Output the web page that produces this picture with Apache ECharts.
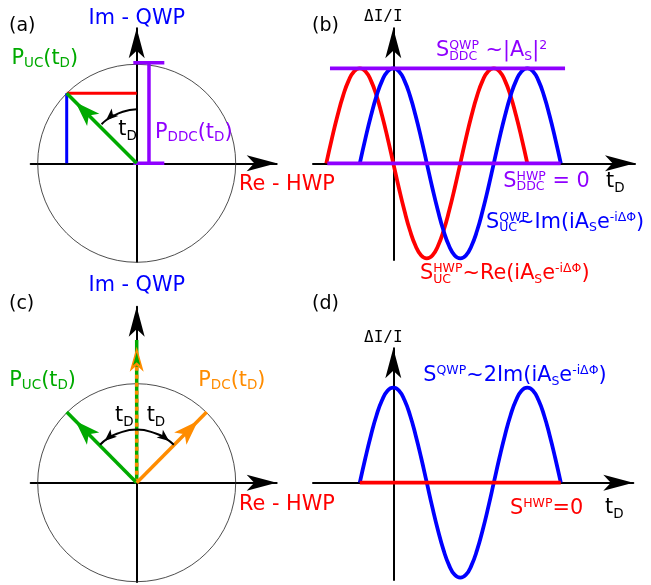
<!DOCTYPE html>
<html><head><meta charset="utf-8">
<script src="https://cdn.jsdelivr.net/npm/echarts@6/dist/echarts.min.js"></script>
<style>html,body{margin:0;padding:0;background:#fff}#c{width:651px;height:585px}</style>
</head><body><div id="c"></div>
<script>
// ================= data =================
// (a) phasor diagram, unit circle
const circleCenter = [0, 0];
const circleR = 1;
const pucA = [-0.707, 0.707];                 // P_UC(tD) tip
const reProj = [[-0.707, 0.707], [0, 0.707]]; // red projection
const imProj = [[-0.707, 0], [-0.707, 0.707]];// blue projection
const pddcBarX = 0.124;
const pddcBarY = [0, 1.016];
const pddcCapX = [-0.034, 0.279];
const arcAX = [0, -0.14, -0.27, -0.31, -0.355];
const arcAY = [0.545, 0.52, 0.46, 0.435, 0.395];
// (c)
const pucC = [-0.707, 0.714];
const pdcC = [0.707, 0.714];
const sumC = [0, 1.441];
const arcCX = [-0.37, -0.30, -0.2, 0, 0.2, 0.30, 0.375];
const arcCY = [0.383, 0.443, 0.495, 0.537, 0.495, 0.443, 0.383];
// (b) time traces, tD in steps of 1/24 period
const tD = [-6, -5.5, -5, -4.5, -4, -3.5, -3, -2.5, -2, -1.5, -1, -0.5, 0, 0.5, 1, 1.5, 2, 2.5, 3, 3.5, 4, 4.5,
            5, 5.5, 6, 6.5, 7, 7.5, 8, 8.5, 9, 9.5, 10, 10.5, 11, 11.5, 12, 12.5, 13, 13.5, 14, 14.5, 15];
const sUcQwp = ['-', '-', '-', '-', '-', '-',
  0, 0.26, 0.5, 0.71, 0.87, 0.97, 1, 0.97, 0.87, 0.71, 0.5, 0.26,
  0, -0.26, -0.5, -0.71, -0.87, -0.97, -1, -0.97, -0.87, -0.71, -0.5, -0.26,
  0, 0.26, 0.5, 0.71, 0.87, 0.97, 1, 0.97, 0.87, 0.71, 0.5, 0.26, 0];
const sUcHwp = [0, 0.26, 0.5, 0.71, 0.87, 0.97, 1, 0.97, 0.87, 0.71, 0.5, 0.26,
  0, -0.26, -0.5, -0.71, -0.87, -0.97, -1, -0.97, -0.87, -0.71, -0.5, -0.26,
  0, 0.26, 0.5, 0.71, 0.87, 0.97, 1, 0.97, 0.87, 0.71, 0.5, 0.26, 0,
  '-', '-', '-', '-', '-', '-'];
const ddcQwpX = [-5.67, 15.38];
const ddcQwp  = [1, 1];
const ddcHwpX = [-5.91, 14.99];
const ddcHwp  = [0, 0];
// (d)
const sQwpD = ['-', '-', '-', '-', '-', '-',
  0, 0.26, 0.5, 0.71, 0.87, 0.97, 1, 0.97, 0.87, 0.71, 0.5, 0.26,
  0, -0.26, -0.5, -0.71, -0.87, -0.97, -1, -0.97, -0.87, -0.71, -0.5, -0.26,
  0, 0.26, 0.5, 0.71, 0.87, 0.97, 1, 0.97, 0.87, 0.71, 0.5, 0.26, 0];
const sHwpX = [-3, 15];
const sHwpD = [0, 0];

// ================= layout (x1 / y0 are arrow tips) =================
const P = {
  a: {x0: 30.7, x1: 276.7, y0: 28.3, y1: 261.7, cx: 136.7, cy: 163.3, sx: 99, sy: 99},
  b: {x0: 313, x1: 635, y0: 28.3, y1: 260, cx: 393.3, cy: 163.3, sx: 67 / 6, sy: 95},
  c: {x0: 30.7, x1: 276.7, y0: 306.7, y1: 582, cx: 136.7, cy: 482.7, sx: 99, sy: 99},
  d: {x0: 313, x1: 633.3, y0: 348.3, y1: 580, cx: 393.3, cy: 482.7, sx: 67 / 6, sy: 95}
};
const keys = ['a', 'b', 'c', 'd'];
const BLUE = '#0000ff', RED = '#ff0000', GREEN = '#00aa00', ORANGE = '#ff8c00', PURPLE = '#8f00ff', BLACK = '#000000';
const FAM = "'DejaVu Sans', sans-serif";
const MONO = "'DejaVu Sans Mono', monospace";

const grids = [], xAxes = [], yAxes = [];
keys.forEach((k, i) => {
  const p = P[k];
  grids.push({left: p.x0, top: p.y0, width: p.x1 - p.x0, height: p.y1 - p.y0, containLabel: false, outerBoundsMode: 'none'});
  const ax = {
    type: 'value', gridIndex: i, axisTick: {show: false}, axisLabel: {show: false}, splitLine: {show: false},
    axisLine: {show: true, onZero: true, symbol: ['none', 'arrow'], symbolSize: [12, 30], lineStyle: {color: BLACK, width: 2}}
  };
  xAxes.push(Object.assign({}, ax, {min: (p.x0 - p.cx) / p.sx, max: (p.x1 - p.cx) / p.sx}));
  yAxes.push(Object.assign({}, ax, {min: -(p.y1 - p.cy) / p.sy, max: (p.cy - p.y0) / p.sy}));
});

const series = [];
function line(k, pts, color, width, extra) {
  const gi = keys.indexOf(k);
  series.push(Object.assign({
    type: 'line', xAxisIndex: gi, yAxisIndex: gi, data: pts, symbol: 'none', showSymbol: false,
    smooth: false, clip: false, silent: true, animation: false,
    lineStyle: {color: color, width: width, cap: 'butt'}, itemStyle: {color: color},
    emphasis: {disabled: true}
  }, extra || {}));
}
function arrowHead(k, from, to, w, h, style) {
  const p = P[k];
  const dx = (to[0] - from[0]) * p.sx, dy = (to[1] - from[1]) * p.sy;
  const th = Math.atan2(dy, dx);
  return {value: to, symbol: 'arrow', symbolSize: [w, h], symbolRotate: th * 180 / Math.PI - 90,
          symbolOffset: [-Math.cos(th) * h / 2, Math.sin(th) * h / 2], itemStyle: style};
}
function arrowLine(k, pts, color, width, w, h, opts) {
  opts = opts || {};
  const n = pts.length;
  const data = pts.map(q => ({value: q, symbol: 'none'}));
  data[n - 1] = arrowHead(k, pts[n - 2], pts[n - 1], w, h, opts.head || {color: color});
  if (opts.both) data[0] = arrowHead(k, pts[1], pts[0], w, h, opts.head || {color: color});
  line(k, data, color, width, {symbol: 'arrow', showSymbol: true, showAllSymbol: true, smooth: opts.smooth || false});
}
function circle(k) {
  const gi = keys.indexOf(k);
  series.push({type: 'scatter', xAxisIndex: gi, yAxisIndex: gi, data: [circleCenter], symbol: 'circle',
    symbolSize: 2 * circleR * P[k].sx, clip: false, silent: true, animation: false, z: 1,
    itemStyle: {color: 'rgba(0,0,0,0)', borderColor: '#222', borderWidth: 1}, emphasis: {disabled: true}});
}
const zip = (xs, ys) => xs.map((x, i) => [x, ys[i]]).filter(q => q[1] !== '-');

// ---- (a)
circle('a');
line('a', reProj, RED, 3);
line('a', imProj, BLUE, 3);
line('a', [[pddcBarX, pddcBarY[0]], [pddcBarX, pddcBarY[1]]], PURPLE, 3.5);
line('a', [[pddcCapX[0], pddcBarY[0]], [pddcCapX[1], pddcBarY[0]]], PURPLE, 3.5);
line('a', [[pddcCapX[0], pddcBarY[1]], [pddcCapX[1], pddcBarY[1]]], PURPLE, 3.5);
arrowLine('a', [[0, 0], pucA], GREEN, 3.5, 13, 25);
arrowLine('a', zip(arcAX, arcAY), BLACK, 2, 7.5, 12, {smooth: true});

// ---- (b)
line('b', zip(tD, sUcHwp), RED, 3.8, {smooth: true});
line('b', zip(tD, sUcQwp), BLUE, 3.8, {smooth: true});
line('b', zip(ddcQwpX, ddcQwp), PURPLE, 3.8);
line('b', zip(ddcHwpX, ddcHwp), PURPLE, 3.8);

// ---- (c)
circle('c');
arrowLine('c', [[0, 0], sumC], GREEN, 3.5, 8, 19, {head: {color: GREEN, borderColor: ORANGE, borderWidth: 2}});
line('c', [[0, 0], [0, sumC[1] - 14 / P.c.sy]], ORANGE, 3.5, {lineStyle: {color: ORANGE, width: 3.5, type: [4, 4], cap: 'butt'}});
arrowLine('c', [[0, 0], pucC], GREEN, 3.5, 13, 25);
arrowLine('c', [[0, 0], pdcC], ORANGE, 3.5, 13, 25);
arrowLine('c', zip(arcCX, arcCY), BLACK, 2, 7.5, 12, {smooth: true, both: true});

// ---- (d)
line('d', zip(tD, sQwpD), BLUE, 3.8, {smooth: true});
line('d', zip(sHwpX, sHwpD), RED, 3.8);

// ================= text =================
const mctx = document.createElement('canvas').getContext('2d');
function tw(s, size, fam) { mctx.font = size + 'px ' + fam; return mctx.measureText(s).width; }
const texts = [];
function put(t, x, y, size, color, fam) {
  texts.push({type: 'text', x: x, y: y, silent: true, z: 100,
    style: {text: t, font: size + 'px ' + (fam || FAM), fill: color, align: 'left', verticalAlign: 'middle'}});
}
function formula(x, yc, color, parts, opt) {
  opt = opt || {};
  const M = opt.main || 20.8, S = opt.small || 12.5, up = opt.up || 5, dn = opt.dn || 5.5;
  let cx = x;
  parts.forEach(p => {
    if (typeof p === 'string') { put(p, cx, yc, M, color); cx += tw(p, M, FAM); }
    else {
      let w1 = 0, w2 = 0;
      if (p.sup) { put(p.sup, cx, yc - up, S, color); w1 = tw(p.sup, S, FAM); }
      if (p.sub) { put(p.sub, cx, yc + dn, S, color); w2 = tw(p.sub, S, FAM); }
      cx += p.adv === 'sub' ? w2 : Math.max(w1, w2);
    }
  });
}
// (a)
formula(9, 26, BLACK, ['(a)'], {main: 19});
formula(88.5, 18.8, BLUE, ['Im - QWP']);
formula(11.5, 58.8, GREEN, ['P', {sub: 'UC'}, '(t', {sub: 'D'}, ')'], {small: 13.5, dn: 4.5});
formula(118.3, 130, BLACK, ['t', {sub: 'D'}], {small: 13.5, dn: 6.5});
formula(155, 133, PURPLE, ['P', {sub: 'DDC'}, '(t', {sub: 'D'}, ')'], {small: 13.5, dn: 4.5});
formula(239, 185, RED, ['Re - HWP']);
// (b)
formula(312, 26, BLACK, ['(b)'], {main: 19});
put('ΔI/I', 364, 17.2, 16, BLACK, MONO);
formula(436, 51, PURPLE, ['S', {sup: 'QWP', sub: 'DDC'}, ' ~|A', {sub: 'S'}, '|', {sup: '2'}]);
formula(503.3, 181.7, PURPLE, ['S', {sup: 'HWP', sub: 'DDC'}, ' = 0']);
formula(606, 181.5, BLACK, ['t', {sub: 'D'}], {small: 13.5, dn: 6.5});
formula(486, 222.5, BLUE, ['S', {sup: 'QWP', sub: 'UC', adv: 'sub'}, '~Im(iA', {sub: 'S'}, 'e', {sup: '-iΔΦ'}, ')']);
formula(420, 273.8, RED, ['S', {sup: 'HWP', sub: 'UC'}, '~Re(iA', {sub: 'S'}, 'e', {sup: '-iΔΦ'}, ')']);
// (c)
formula(9, 304, BLACK, ['(c)'], {main: 19});
formula(88.5, 285.5, BLUE, ['Im - QWP']);
formula(9.3, 380.8, GREEN, ['P', {sub: 'UC'}, '(t', {sub: 'D'}, ')'], {small: 13.5, dn: 4.5});
formula(198.3, 380.8, ORANGE, ['P', {sub: 'DC'}, '(t', {sub: 'D'}, ')'], {small: 13.5, dn: 4.5});
formula(115, 416, BLACK, ['t', {sub: 'D'}], {small: 13.5, dn: 6.5});
formula(146.7, 416, BLACK, ['t', {sub: 'D'}], {small: 13.5, dn: 6.5});
formula(239, 505, RED, ['Re - HWP']);
// (d)
formula(312, 304, BLACK, ['(d)'], {main: 19});
put('ΔI/I', 364, 337.5, 16, BLACK, MONO);
formula(423.3, 375.8, BLUE, ['S', {sup: 'QWP'}, '~2Im(iA', {sub: 'S'}, 'e', {sup: '-iΔΦ'}, ')']);
formula(510, 509, RED, ['S', {sup: 'HWP'}, '=0']);
formula(605, 507.7, BLACK, ['t', {sub: 'D'}], {small: 13.5, dn: 6.5});

const chart = echarts.init(document.getElementById('c'), null, {renderer: 'canvas'});
chart.setOption({
  animation: false,
  backgroundColor: '#ffffff',
  grid: grids, xAxis: xAxes, yAxis: yAxes,
  series: series,
  graphic: {elements: texts}
});
</script>
</body></html>
